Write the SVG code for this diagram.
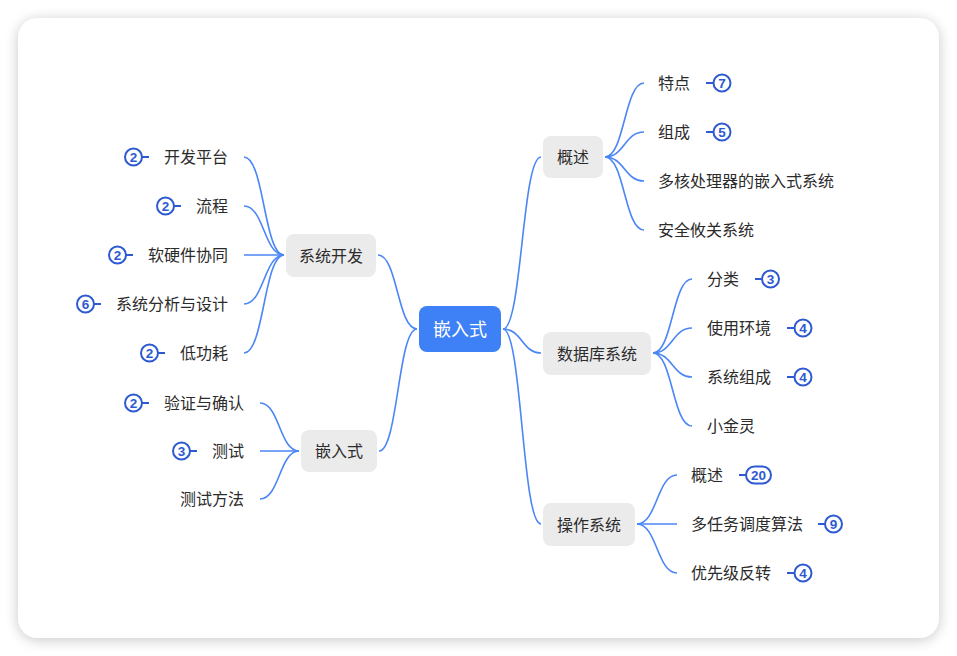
<svg xmlns="http://www.w3.org/2000/svg" width="957" height="656" viewBox="0 0 957 656">
<defs>
<filter id="sh" x="-10%" y="-10%" width="120%" height="120%">
<feGaussianBlur in="SourceAlpha" stdDeviation="7"/>
<feOffset dx="0" dy="2"/>
<feComponentTransfer><feFuncA type="linear" slope="0.22"/></feComponentTransfer>
<feMerge><feMergeNode/><feMergeNode in="SourceGraphic"/></feMerge>
</filter>
<style>
text{font-family:"Noto Sans CJK SC","Noto Sans",sans-serif;dominant-baseline:central}
.t{font-size:16px;fill:#2b2b2b;transform:translateY(-1px)}
.n{fill:#ebebeb}
.c{fill:none;stroke:#4a86f5;stroke-width:1.6}
.bl{stroke:#2e5ad1;stroke-width:2}
.bc{fill:#fff;stroke:#2e5ad1;stroke-width:2}
.bn{font-family:"Liberation Sans",Arial,sans-serif;font-weight:bold;font-size:13.5px;fill:#2e5ad1;text-anchor:middle}
.e{text-anchor:end}
.m{text-anchor:middle}
</style>
</defs>
<rect width="957" height="656" fill="#fff"/>
<rect x="18" y="18" width="921" height="620" rx="20" fill="#fff" filter="url(#sh)"/>

<g id="connectors" class="c">
<path d="M503,329 C522,329 522,157 541,157"/>
<path d="M503,329 C522,329 522,353 541,353"/>
<path d="M503,329 C522,329 522,524 541,524"/>
<path d="M417,329 C397.5,329 397.5,255 378,255"/>
<path d="M417,329 C398,329 398,451 379,451"/>
<path d="M605,157 C624.5,157 624.5,83 644,83"/>
<path d="M605,157 C624.5,157 624.5,132 644,132"/>
<path d="M605,157 C624.5,157 624.5,181 644,181"/>
<path d="M605,157 C624.5,157 624.5,230 644,230"/>
<path d="M653,353 C672.5,353 672.5,279 692,279"/>
<path d="M653,353 C672.5,353 672.5,328 692,328"/>
<path d="M653,353 C672.5,353 672.5,377 692,377"/>
<path d="M653,353 C672.5,353 672.5,426 692,426"/>
<path d="M637,524 C657,524 657,475 677,475"/>
<path d="M637,524 L677,524"/>
<path d="M637,524 C657,524 657,573 677,573"/>
<path d="M284,255 C264,255 264,157 244,157"/>
<path d="M284,255 C264,255 264,206 244,206"/>
<path d="M284,255 L244,255"/>
<path d="M284,255 C264,255 264,304 244,304"/>
<path d="M284,255 C264,255 264,353 244,353"/>
<path d="M299,451 C279.5,451 279.5,403 260,403"/>
<path d="M299,451 L260,451"/>
<path d="M299,451 C279.5,451 279.5,499 260,499"/>
</g>

<g id="root">
<rect x="419" y="306" width="82" height="46" rx="8" fill="#3e80f6"/>
<text x="460" y="328" class="m" font-size="18" fill="#fff">嵌入式</text>
</g>

<g id="n-gaishu">
<rect class="n" x="543" y="136" width="60" height="42" rx="8"/>
<text class="t m" x="573" y="157">概述</text>
</g>
<g id="n-shujuku">
<rect class="n" x="543" y="332" width="108" height="43" rx="8"/>
<text class="t m" x="597" y="353.5">数据库系统</text>
</g>
<g id="n-caozuo">
<rect class="n" x="543" y="503" width="92" height="43" rx="8"/>
<text class="t m" x="589" y="524.5">操作系统</text>
</g>
<g id="n-xitongkaifa">
<rect class="n" x="286" y="234" width="90" height="43" rx="8"/>
<text class="t m" x="331" y="255.5">系统开发</text>
</g>
<g id="n-qianrushi">
<rect class="n" x="301" y="430" width="76" height="42" rx="8"/>
<text class="t m" x="339" y="451">嵌入式</text>
</g>

<g id="c-tedian">
<text class="t" x="658" y="83">特点</text>
<line class="bl" x1="706" y1="83" x2="713" y2="83"/>
<circle class="bc" cx="722" cy="83" r="8.5"/>
<text class="bn" x="722" y="83.5">7</text>
</g>
<g id="c-zucheng">
<text class="t" x="658" y="132">组成</text>
<line class="bl" x1="706" y1="132" x2="713" y2="132"/>
<circle class="bc" cx="722" cy="132" r="8.5"/>
<text class="bn" x="722" y="132.5">5</text>
</g>
<g id="c-duohe">
<text class="t" x="658" y="181">多核处理器的嵌入式系统</text>
</g>
<g id="c-anquan">
<text class="t" x="658" y="230">安全攸关系统</text>
</g>

<g id="c-fenlei">
<text class="t" x="707" y="279">分类</text>
<line class="bl" x1="755" y1="279" x2="762" y2="279"/>
<circle class="bc" cx="770.5" cy="279" r="8.5"/>
<text class="bn" x="770.5" y="279.5">3</text>
</g>
<g id="c-shiyong">
<text class="t" x="707" y="328">使用环境</text>
<line class="bl" x1="787" y1="328" x2="794" y2="328"/>
<circle class="bc" cx="803" cy="328" r="8.5"/>
<text class="bn" x="803" y="328.5">4</text>
</g>
<g id="c-xitongzucheng">
<text class="t" x="707" y="377">系统组成</text>
<line class="bl" x1="787" y1="377" x2="794" y2="377"/>
<circle class="bc" cx="803" cy="377" r="8.5"/>
<text class="bn" x="803" y="377.5">4</text>
</g>
<g id="c-xiaojinling">
<text class="t" x="707" y="426">小金灵</text>
</g>

<g id="c-gaishu2">
<text class="t" x="691" y="475">概述</text>
<line class="bl" x1="739" y1="475" x2="746" y2="475"/>
<rect class="bc" x="746" y="466.5" width="25" height="17" rx="8.5"/>
<text class="bn" x="758.5" y="475.5">20</text>
</g>
<g id="c-duorenwu">
<text class="t" x="691" y="524">多任务调度算法</text>
<line class="bl" x1="818" y1="524" x2="825" y2="524"/>
<circle class="bc" cx="833.5" cy="524" r="8.5"/>
<text class="bn" x="833.5" y="524.5">9</text>
</g>
<g id="c-youxianji">
<text class="t" x="691" y="573">优先级反转</text>
<line class="bl" x1="787" y1="573" x2="794" y2="573"/>
<circle class="bc" cx="803" cy="573" r="8.5"/>
<text class="bn" x="803" y="573.5">4</text>
</g>

<g id="c-kaifapingtai">
<text class="t e" x="228" y="157">开发平台</text>
<line class="bl" x1="142" y1="157" x2="149" y2="157"/>
<circle class="bc" cx="133.5" cy="157" r="8.5"/>
<text class="bn" x="133.5" y="157.5">2</text>
</g>
<g id="c-liucheng">
<text class="t e" x="228" y="206">流程</text>
<line class="bl" x1="174" y1="206" x2="181" y2="206"/>
<circle class="bc" cx="165.5" cy="206" r="8.5"/>
<text class="bn" x="165.5" y="206.5">2</text>
</g>
<g id="c-ruanyingjian">
<text class="t e" x="228" y="255">软硬件协同</text>
<line class="bl" x1="126" y1="255" x2="133" y2="255"/>
<circle class="bc" cx="117.5" cy="255" r="8.5"/>
<text class="bn" x="117.5" y="255.5">2</text>
</g>
<g id="c-fenxi">
<text class="t e" x="228" y="304">系统分析与设计</text>
<line class="bl" x1="94" y1="304" x2="101" y2="304"/>
<circle class="bc" cx="85.5" cy="304" r="8.5"/>
<text class="bn" x="85.5" y="304.5">6</text>
</g>
<g id="c-digonghao">
<text class="t e" x="228" y="353">低功耗</text>
<line class="bl" x1="158" y1="353" x2="165" y2="353"/>
<circle class="bc" cx="149.5" cy="353" r="8.5"/>
<text class="bn" x="149.5" y="353.5">2</text>
</g>

<g id="c-yanzheng">
<text class="t e" x="244" y="403">验证与确认</text>
<line class="bl" x1="142" y1="403" x2="149" y2="403"/>
<circle class="bc" cx="133.5" cy="403" r="8.5"/>
<text class="bn" x="133.5" y="403.5">2</text>
</g>
<g id="c-ceshi">
<text class="t e" x="244" y="451">测试</text>
<line class="bl" x1="190" y1="451" x2="197" y2="451"/>
<circle class="bc" cx="181.5" cy="451" r="8.5"/>
<text class="bn" x="181.5" y="451.5">3</text>
</g>
<g id="c-ceshifangfa">
<text class="t e" x="244" y="499">测试方法</text>
</g>
</svg>
